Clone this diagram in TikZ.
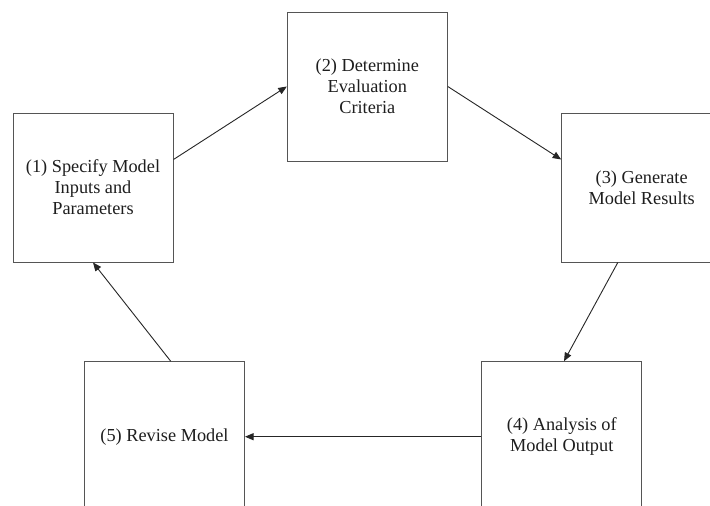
\documentclass[tikz,border=0pt]{standalone}
\usepackage{fontspec}
\setmainfont{Liberation Serif}
\usetikzlibrary{arrows.meta}
\definecolor{edgegray}{HTML}{555555}
\definecolor{inkgray}{HTML}{1E1E1E}
\tikzset{
  stagebox/.style={draw=edgegray, line width=1pt, fill=white,
    minimum width=160pt, minimum height=149pt, inner sep=0pt,
    align=center, text=inkgray,
    font=\fontsize{18.3}{21}\selectfont},
  flow/.style={draw=black!85, line width=0.9pt,
    -{Triangle[length=8.5pt,width=7pt]}}
}
\begin{document}
\begin{tikzpicture}[x=1pt,y=-1pt]
  \useasboundingbox (0,0) rectangle (710,506);
  \fill[white] (0,0) rectangle (710,506);
  \clip (0,0) rectangle (710,506);

  % the five stages of the modelling cycle
  \node[stagebox] (b1) at (93,187.5)    {(1) Specify Model\\Inputs and\\Parameters};
  \node[stagebox] (b2) at (367.3,86.5)  {(2) Determine\\Evaluation\\Criteria};
  \node[stagebox] (b3) at (641.7,187.5) {(3) Generate\\Model Results};
  \node[stagebox, minimum height=150pt] (b4) at (561.8,436.7) {(4) Analysis of\\Model Output};
  \node[stagebox, minimum height=150pt] (b5) at (164.5,436.7) {(5) Revise Model};

  % connectors between the stages
  \draw[flow] ([yshift=-47pt]b1.north east) -- (b2.west);
  \draw[flow] (b2.east) -- ([yshift=-47pt]b3.north west);
  \draw[flow] ([xshift=56.6pt]b3.south west) -- ([xshift=82.7pt]b4.north west);
  \draw[flow] (b4.west) -- (b5.east);
  \draw[flow] ([xshift=86.7pt]b5.north west) -- (b1.south);
\end{tikzpicture}
\end{document}
